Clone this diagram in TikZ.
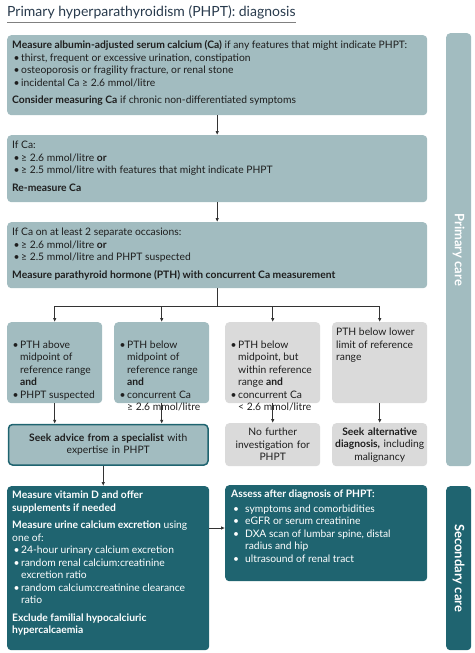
\documentclass[tikz,border=0pt]{standalone}
\usepackage{fontspec}
\setmainfont{Lato}
\usetikzlibrary{arrows.meta}
\definecolor{lteal}{HTML}{A2BCC0}
\definecolor{dteal}{HTML}{1F6470}
\definecolor{lgray}{HTML}{DADADA}
\definecolor{ink}{HTML}{1E1E1E}
\definecolor{titlec}{HTML}{283A4C}
\definecolor{linec}{HTML}{333333}
\newcommand\nohy{\hyphenpenalty=10000\exhyphenpenalty=10000}
\newcommand\tb[3]{\parbox[t][#2pt][t]{#1pt}{\raggedright\nohy\parindent=0pt\parskip=0pt\strut#3}}
\newcommand\bul[1]{\par\hangindent=9pt\hangafter=1\noindent\makebox[9pt][l]{\hspace{1.5pt}\textbullet}#1}
\newcommand\bulw[1]{\par\hangindent=14pt\hangafter=1\noindent\makebox[14pt][l]{\hspace{2pt}\textbullet}#1}
\newcommand\gap[1]{\par\vspace{#1pt}}
\tikzset{
  boxbase/.style={rounded corners=4pt, anchor=north west, inner xsep=5pt, inner ysep=5pt,
    font=\fontsize{10.3}{12.5}\selectfont, text=ink},
  lbox/.style={boxbase, fill=lteal},
  gbox/.style={boxbase, fill=lgray},
  dbox/.style={boxbase, fill=dteal, text=white},
  cbox/.style={rounded corners=4pt, anchor=north west, inner sep=1.5pt, align=center,
    font=\fontsize{10.3}{12.5}\selectfont\nohy, text=ink},
  sidebar/.style={rounded corners=4pt, anchor=north west, inner sep=0pt, minimum width=25pt},
  sidetext/.style={rotate=-90, font=\fontsize{13}{15}\selectfont\bfseries, text=white},
  arr/.style={draw=linec, line width=0.9pt, -{Latex[length=4pt,width=3.6pt]}},
  ln/.style={draw=linec, line width=0.9pt},
}
\begin{document}
\begin{tikzpicture}[x=1pt,y=-1pt]
\useasboundingbox (0,0) rectangle (474,653);
% title
\node[anchor=base west, inner sep=0pt, font=\fontsize{14}{16}\selectfont, text=titlec] (title) at (7,16.5) {Primary hyperparathyroidism (PHPT): diagnosis};
\draw[gray, line width=0.6pt] (title.base west |- 0,22) -- (title.base east |- 0,22);

% side bars
\node[sidebar, fill=lteal, minimum height=433pt] (pc) at (446,33) {};
\node[sidetext] (pct) at (pc.center) {Primary care};
\node[sidebar, fill=dteal, minimum height=164pt] (sc) at (446,486) {};
\node[sidetext] (sct) at (sc.center) {Secondary care};

% box 1
\node[lbox] (b1) at (7,35) {\tb{410}{70}{\textbf{Measure albumin-adjusted serum calcium (Ca)} if any features that might indicate PHPT:
\bul{thirst, frequent or excessive urination, constipation}
\bul{osteoporosis or fragility fracture, or renal stone}
\bul{incidental Ca ≥ 2.6 mmol/litre}
\gap{5}\textbf{Consider measuring Ca} if chronic non-differentiated symptoms}};

% box 2
\node[lbox] (b2) at (7,135) {\tb{410}{57}{If Ca:
\bul{≥ 2.6 mmol/litre \textbf{or}}
\bul{≥ 2.5 mmol/litre with features that might indicate PHPT}
\gap{5}\textbf{Re-measure Ca}}};

% box 3
\node[lbox] (b3) at (7,222) {\tb{410}{56}{If Ca on at least 2 separate occasions:
\bul{≥ 2.6 mmol/litre \textbf{or}}
\bul{≥ 2.5 mmol/litre and PHPT suspected}
\gap{5}\textbf{Measure parathyroid hormone (PTH) with concurrent Ca measurement}}};

% row 4
\node[lbox, inner xsep=4pt] (b4a) at (7,322) {\tb{87}{71}{\bul{PTH above midpoint of reference range \textbf{and}}
\bul{PHPT suspected}}};
\node[lbox, inner xsep=4pt] (b4b) at (114,322) {\tb{87}{71}{\bul{PTH below midpoint of reference range \textbf{and}}
\bul{concurrent Ca\newline ≥ 2.6 mmol/litre}}};
\node[gbox, inner xsep=4pt] (b4c) at (225,322) {\tb{87}{71}{\bul{PTH below midpoint, but within reference range \textbf{and}}
\bul{concurrent Ca\newline < 2.6 mmol/litre}}};
\node[gbox, inner xsep=4pt] (b4d) at (332,322) {\tb{87}{71}{PTH below lower limit of reference range}};

% row 5
\node[cbox, fill=lteal, draw=dteal, line width=1.5pt, minimum width=199.5pt, minimum height=40.5pt, text width=190pt] (b5a) at (7.75,423.75) {\textbf{Seek advice from a specialist} with\\ expertise in PHPT};
\node[cbox, fill=lgray, minimum width=95pt, minimum height=43pt, text width=92pt] (b5c) at (225,423) {No further\\ investigation for\\ PHPT};
\node[cbox, fill=lgray, minimum width=95pt, minimum height=43pt, text width=92pt] (b5d) at (332,423) {\textbf{Seek alternative}\\ \textbf{diagnosis,} including\\ malignancy};

% row 6
\node[dbox, inner xsep=5pt, inner ysep=4pt] (b6) at (7,486) {\tb{192}{156}{\parbox[t]{183pt}{\raggedright\nohy\strut\textbf{Measure vitamin D and offer supplements if needed}
\gap{5}\textbf{Measure urine calcium excretion} using one of:
\bul{24-hour urinary calcium excretion}
\bul{random renal calcium:creatinine excretion ratio}
\bul{random calcium:creatinine clearance ratio}
\gap{5}\textbf{Exclude familial hypocalciuric hypercalcaemia}}}};
\node[dbox, inner xsep=6pt, inner ysep=4pt] (b7) at (225,485) {\tb{190}{88}{\parbox[t]{172pt}{\raggedright\nohy\strut\textbf{Assess after diagnosis of PHPT:}
\gap{2}\bulw{symptoms and comorbidities}
\bulw{eGFR or serum creatinine}
\bulw{DXA scan of lumbar spine, distal radius and hip}
\bulw{ultrasound of renal tract}}}};

% connectors
\draw[arr] (b1.south) -- (b2.north);
\draw[arr] (b2.south) -- (b3.north);
\coordinate (j) at (b3.south |- 0,306);
\draw[ln] (b3.south) -- (j);
\draw[ln] (b4a.north |- j) -- (b4d.north |- j);
\draw[arr] (b4a.north |- j) -- (b4a.north);
\draw[arr] (b4b.north |- j) -- (b4b.north);
\draw[arr] (b4c.north |- j) -- (b4c.north);
\draw[arr] (b4d.north |- j) -- (b4d.north);
\draw[arr] (b4a.south) -- (b4a.south |- b5a.north);
\draw[arr] (b4b.south) -- (b4b.south |- b5a.north);
\draw[arr] (b4c.south) -- (b5c.north);
\draw[arr] (b4d.south) -- (b5d.north);
\coordinate (k) at ([xshift=-5pt]b5a.south);
\draw[arr] (k) -- (k |- b6.north);
\coordinate (m) at (b6.east |- 0,528);
\draw[arr] (m) -- (m -| b7.west);
\end{tikzpicture}
\end{document}
